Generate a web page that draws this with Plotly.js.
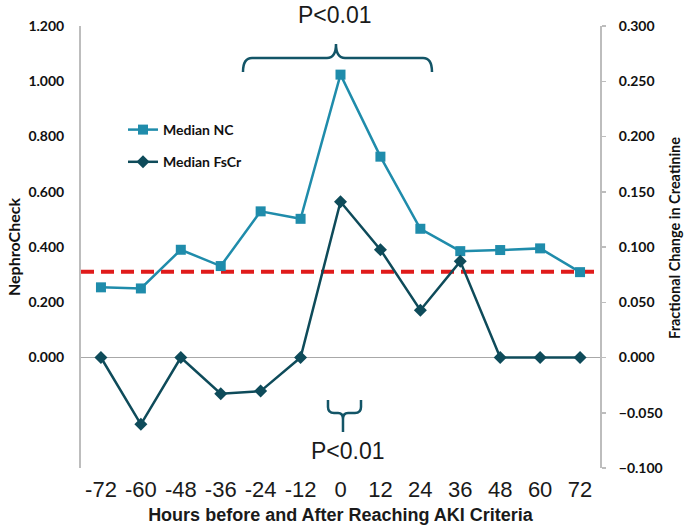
<!DOCTYPE html>
<html>
<head>
<meta charset="utf-8">
<script src="https://cdn.plot.ly/plotly-3.0.1.min.js"></script>
<style>html,body{margin:0;padding:0;background:#fff;}#chart{width:685px;height:528px;}</style>
</head>
<body>
<div id="chart"></div>
<script>
// ---- data ----
var hours = ["-72","-60","-48","-36","-24","-12","0","12","24","36","48","60","72"];
var medianNC = [0.254,0.250,0.390,0.331,0.529,0.502,1.024,0.727,0.466,0.385,0.389,0.395,0.309];
var medianFsCr = [0.000,-0.0605,0.000,-0.0328,-0.0304,0.000,0.141,0.0976,0.0428,0.0870,0.000,0.000,0.000];
var ncThreshold = 0.31;
var leftTicks = [0,0.2,0.4,0.6,0.8,1.0,1.2];
var rightTicks = [-0.1,-0.05,0,0.05,0.1,0.15,0.2,0.25,0.3];
var pLabel = "P<0.01";

// ---- layout geometry (pixels) ----
var W = 685, H = 528;
var M = {l:81, r:85, t:26, b:60};
var PW = W - M.l - M.r, PH = H - M.t - M.b;
function px(x){ return ((x - M.l)/PW).toFixed(4); }
function py(y){ return ((H - M.b - y)/PH).toFixed(4); }
function P(x,y){ return px(x)+','+py(y); }

var braceTop = 'M '+P(243,72)+' Q '+P(243,58)+' '+P(252,58)+' L '+P(327,58)+
  ' Q '+P(336,58)+' '+P(336,44)+' Q '+P(336,58)+' '+P(345,58)+' L '+P(423,58)+
  ' Q '+P(432,58)+' '+P(432,72);
var braceBot = 'M '+P(328,400)+' L '+P(328,407)+' Q '+P(328,413)+' '+P(334,413)+' L '+P(338,413)+
  ' Q '+P(343,413)+' '+P(343,419)+' L '+P(343,432)+
  ' M '+P(343,419)+' Q '+P(343,413)+' '+P(348,413)+' L '+P(355,413)+
  ' Q '+P(361,413)+' '+P(361,407)+' L '+P(361,400);

function bold(sz){ return {family:'Lato, "DejaVu Sans", sans-serif', size:sz, color:'#111', weight:'bold'}; }
function arial(sz, w){ return {family:'"Liberation Sans", Arial, sans-serif', size:sz, color:'#1a1a1a', weight:w||'normal'}; }
var colNC = '#1f8cab', colFs = '#0e4b5a', braceCol = '#135567';

var traces = [
  {x:hours, y:medianNC, name:'Median NC', type:'scatter', mode:'lines+markers', yaxis:'y',
   legendgroup:'a', line:{color:colNC, width:2.5}, marker:{symbol:'square', size:10, color:colNC}},
  {x:hours, y:medianFsCr, name:'Median FsCr', type:'scatter', mode:'lines+markers', yaxis:'y2',
   legendgroup:'b', line:{color:colFs, width:2.5}, marker:{symbol:'diamond', size:10, color:colFs}}
];

var layout = {
  width:W, height:H, margin:M, paper_bgcolor:'#fff', plot_bgcolor:'#fff',
  showlegend:true,
  legend:{x:Number(px(123)), y:Number(py(114)), xanchor:'left', yanchor:'top', bgcolor:'rgba(0,0,0,0)',
    font:bold(14), traceorder:'grouped', tracegroupgap:11, itemwidth:30},
  xaxis:{type:'category', range:[-0.5,12.5], showgrid:false, zeroline:false, showline:false, ticks:'',
    tickfont:arial(22), ticklabelstandoff:6,
    title:{text:'Hours before and After Reaching AKI Criteria', standoff:7, font:arial(18,'bold')}},
  yaxis:{range:[-0.4,1.2], tickvals:leftTicks, tickformat:'.3f', showgrid:false,
    zeroline:true, zerolinecolor:'#a8a8a8', zerolinewidth:1.5,
    showline:true, linecolor:'#bdbdbd', linewidth:2, ticks:'', ticklabelstandoff:12,
    tickfont:bold(14)},
  yaxis2:{range:[-0.1,0.3], tickvals:rightTicks, tickformat:'.3f', overlaying:'y', side:'right',
    showgrid:false, zeroline:false, showline:true, linecolor:'#bdbdbd', linewidth:2,
    ticks:'outside', ticklen:4, tickcolor:'#bdbdbd', tickwidth:1.5, ticklabelstandoff:10,
    tickfont:bold(14)},
  shapes:[
    {type:'line', xref:'paper', x0:0, x1:1, yref:'y', y0:ncThreshold, y1:ncThreshold, layer:'below',
     line:{color:'#e01b1b', width:4, dash:'13px,7px'}},
    {type:'path', xref:'paper', yref:'paper', path:braceTop, line:{color:braceCol, width:2.5}},
    {type:'path', xref:'paper', yref:'paper', path:braceBot, line:{color:braceCol, width:2.5}}
  ],
  annotations:[
    {text:'<b>NephroCheck</b>', xref:'paper', yref:'paper', x:Number(px(13)), y:Number(py(247)),
     xanchor:'center', yanchor:'middle', textangle:-90, showarrow:false, font:bold(16)},
    {text:'<b>Fractional Change in Creatinine</b>', xref:'paper', yref:'paper', x:Number(px(675)), y:Number(py(238)),
     xanchor:'center', yanchor:'middle', textangle:-90, showarrow:false, font:bold(14.5)},
    {text:pLabel, xref:'paper', yref:'paper', x:Number(px(335)), y:Number(py(15)),
     xanchor:'center', yanchor:'middle', showarrow:false, font:arial(23)},
    {text:pLabel, xref:'paper', yref:'paper', x:Number(px(348)), y:Number(py(451)),
     xanchor:'center', yanchor:'middle', showarrow:false, font:arial(23)}
  ]
};

Plotly.newPlot('chart', traces, layout, {displayModeBar:false, staticPlot:true});
</script>
</body>
</html>
